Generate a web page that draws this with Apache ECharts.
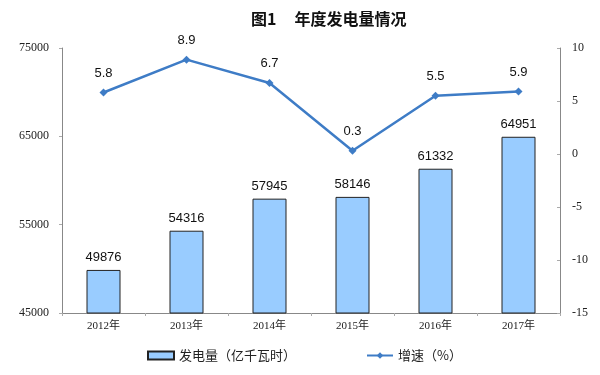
<!DOCTYPE html>
<html><head><meta charset="utf-8">
<script src="https://cdn.jsdelivr.net/npm/echarts@6/dist/echarts.min.js"></script>
<style>html,body{margin:0;padding:0;background:#fff}#c{width:600px;height:375px}</style>
</head><body><div id="c"></div>
<script>
var categories = ['2012年','2013年','2014年','2015年','2016年','2017年'];
var generation = [49876, 54316, 57945, 58146, 61332, 64951];
var growth = [5.8, 8.9, 6.7, 0.3, 5.5, 5.9];
var leftTicks = [45000, 55000, 65000, 75000];
var rightTicks = [-15, -10, -5, 0, 5, 10];

var chart = echarts.init(document.getElementById('c'));
var serif = '"Liberation Serif","Noto Sans CJK SC",serif';
chart.setOption({
  animation: false,
  title: {text: '图1     年度发电量情况', left: 246, top: 6,
    textStyle: {fontFamily: '"Noto Sans CJK SC",sans-serif', fontSize: 16, fontWeight: 'bold', color: '#111'}},
  grid: {left: 62, right: 40, top: 48, bottom: 62},
  legend: {left: 142, bottom: 8, itemGap: 70, itemWidth: 26, itemHeight: 8,
    textStyle: {fontFamily: '"Noto Sans CJK SC",sans-serif', fontSize: 13, color: '#222'},
    data: [{name: '发电量（亿千瓦时）', icon: 'rect'}, {name: '增速（%）'}]},
  xAxis: {type: 'category', data: categories,
    axisLine: {onZero: false, lineStyle: {color: '#888'}},
    axisTick: {show: true, length: 3, lineStyle: {color: '#aaa'}},
    axisLabel: {fontFamily: serif, fontSize: 11, color: '#222', margin: 8}},
  yAxis: [
    {type: 'value', min: leftTicks[0], max: leftTicks[leftTicks.length-1], interval: 10000,
     axisLine: {show: true, lineStyle: {color: '#888'}}, axisTick: {show: true, length: 3, lineStyle: {color: '#aaa'}},
     splitLine: {show: false},
     axisLabel: {fontFamily: serif, fontSize: 12, color: '#222', margin: 13, formatter: function(v){return String(v);}}},
    {type: 'value', min: rightTicks[0], max: rightTicks[rightTicks.length-1], interval: 5,
     axisLine: {show: true, lineStyle: {color: '#888'}}, axisTick: {show: true, inside: true, length: 3, lineStyle: {color: '#aaa'}},
     splitLine: {show: false},
     axisLabel: {fontFamily: serif, fontSize: 12, color: '#222', margin: 12, formatter: function(v){return String(v);}}}
  ],
  series: [
    {name: '发电量（亿千瓦时）', type: 'bar', data: generation, barWidth: 34, yAxisIndex: 0,
     itemStyle: {color: '#99CCFF', borderColor: '#222', borderWidth: 1},
     label: {show: true, position: 'top', distance: 6, fontFamily: '"Liberation Sans",Arial,sans-serif', fontSize: 13, color: '#111'}},
    {name: '增速（%）', type: 'line', data: growth, yAxisIndex: 1,
     lineStyle: {color: '#3E7CC6', width: 2.5}, itemStyle: {color: '#3E7CC6'},
     symbol: 'diamond', symbolSize: 8,
     label: {show: true, position: 'top', distance: 9, fontFamily: '"Liberation Sans",Arial,sans-serif', fontSize: 13, color: '#111', formatter: function(p){return p.value.toFixed(1);}}}
  ]
});
</script></body></html>
